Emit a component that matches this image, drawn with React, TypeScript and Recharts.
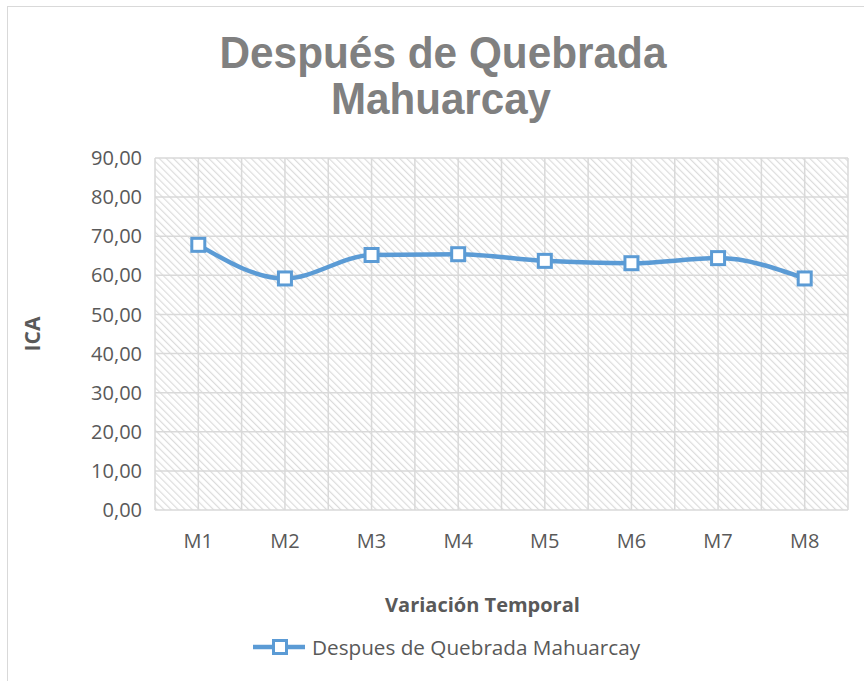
import { LineChart, Line, XAxis, YAxis, CartesianGrid } from "recharts";

const categories = ["M1", "M2", "M3", "M4", "M5", "M6", "M7", "M8"];
const icaValues = [67.8, 59.2, 65.2, 65.4, 63.7, 63.1, 64.4, 59.2];
const yTicks = [0, 10, 20, 30, 40, 50, 60, 70, 80, 90];
const seriesName = "Despues de Quebrada Mahuarcay";

const data = categories.map((c, i) => ({ name: c, ica: icaValues[i] }));

const BLUE = "#5B9BD5";
const TEXT = "#595959";
const FONT = "'Open Sans', 'Noto Sans', sans-serif";

function SquareDot(props: any) {
  const { cx, cy } = props;
  if (cx == null || cy == null) return null;
  return <rect x={cx - 6.5} y={cy - 6.5} width={13} height={13} fill="#fff" stroke={BLUE} strokeWidth={3} />;
}

export default function App() {
  return (
    <div style={{ position: "absolute", left: 0, top: 0, width: 864, height: 681, background: "#fff", overflow: "hidden" }}>
      <svg width={0} height={0} style={{ position: "absolute" }}>
        <defs>
          <pattern id="hatch" width="5" height="5" patternUnits="userSpaceOnUse" patternTransform="rotate(-45)">
            <rect width="5" height="5" fill="#fff" />
            <line x1="0" y1="0" x2="0" y2="5" stroke="#dcdcdc" strokeWidth="2.4" />
          </pattern>
        </defs>
      </svg>
      <div style={{ position: "absolute", left: 7, top: 6, width: 900, height: 720, border: "1.5px solid #d9d9d9" }} />

      <svg width={864} height={130} style={{ position: "absolute", left: 0, top: 0 }}>
        <text x={443} y={68} textAnchor="middle" textLength={447} lengthAdjust="spacingAndGlyphs"
          style={{ fontFamily: "'Liberation Sans', Arial, sans-serif", fontWeight: 700, fontSize: 45, fill: "#808080" }}>
          Después de Quebrada
        </text>
        <text x={441} y={114} textAnchor="middle" textLength={220} lengthAdjust="spacingAndGlyphs"
          style={{ fontFamily: "'Liberation Sans', Arial, sans-serif", fontWeight: 700, fontSize: 45, fill: "#808080" }}>
          Mahuarcay
        </text>
      </svg>

      <div style={{ position: "absolute", left: 0, top: 0 }}>
        <LineChart width={864} height={681} data={data} margin={{ top: 158, right: 16, bottom: 61, left: 25 }}>
          <CartesianGrid
            stroke="#d9d9d9"
            strokeWidth={1.5}
            fill="url(#hatch)"
            fillOpacity={1}
            verticalCoordinatesGenerator={({ offset }: any) =>
              Array.from({ length: categories.length * 2 + 1 }, (_, i) => offset.left + (i * offset.width) / (categories.length * 2))
            }
          />
          <XAxis
            dataKey="name"
            height={110}
            padding={{ left: 43.3, right: 43.3 }}
            axisLine={false}
            tickLine={false}
            tickSize={0}
            tickMargin={24}
            tick={{ fontSize: 20, fill: TEXT, fontFamily: FONT }}
            label={{ value: "Variación Temporal", position: "insideBottom", offset: 8, dx: -19, fill: TEXT, fontSize: 20, fontWeight: 700, fontFamily: FONT }}
          />
          <YAxis
            width={130}
            domain={[0, 90]}
            ticks={yTicks}
            axisLine={false}
            tickLine={false}
            tickSize={0}
            tickMargin={13}
            tick={{ fontSize: 20, fill: TEXT, fontFamily: FONT }}
            tickFormatter={(v: number) => v.toFixed(2).replace(".", ",")}
            label={{ value: "ICA", angle: -90, position: "insideLeft", offset: 8, fill: TEXT, fontSize: 21, fontWeight: 700, fontFamily: FONT, style: { textAnchor: "middle" } }}
          />
          <Line
            type="monotone"
            dataKey="ica"
            name={seriesName}
            stroke={BLUE}
            strokeWidth={4.5}
            dot={<SquareDot />}
            activeDot={false}
            isAnimationActive={false}
          />
        </LineChart>
      </div>

      <div style={{ position: "absolute", left: 250, top: 632, display: "flex", alignItems: "center", height: 30 }}>
        <svg width={60} height={30}>
          <line x1={3} y1={15} x2={55} y2={15} stroke={BLUE} strokeWidth={4.5} />
          <rect x={23.5} y={8.5} width={13} height={13} fill="#fff" stroke={BLUE} strokeWidth={3} />
        </svg>
        <span style={{ fontFamily: FONT, fontSize: 20.7, color: TEXT, marginLeft: 2 }}>{seriesName}</span>
      </div>
    </div>
  );
}
